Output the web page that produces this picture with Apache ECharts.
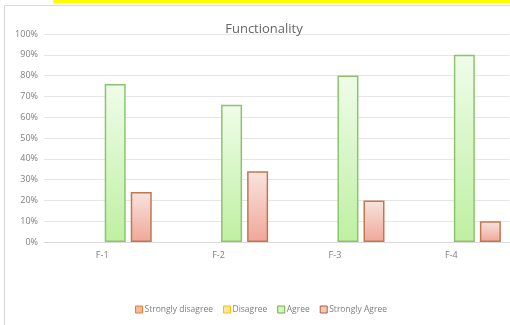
<!DOCTYPE html>
<html>
<head>
<meta charset="utf-8">
<script src="https://cdn.jsdelivr.net/npm/echarts@6/dist/echarts.min.js"></script>
<style>
  html, body { margin: 0; padding: 0; background: #ffffff; }
  #chart { width: 510px; height: 325px; }
</style>
</head>
<body>
<div id="chart"></div>
<script>
// Survey results per functionality item
const categories = ['F-1', 'F-2', 'F-3', 'F-4'];
const seriesNames = ['Strongly disagree', 'Disagree', 'Agree', 'Strongly Agree'];
const stronglyDisagree = [0, 0, 0, 0];
const disagree = [0, 0, 0, 0];
const agree = [76, 66, 80, 90];
const stronglyAgree = [24, 34, 20, 10];
const yTicks = [0, 10, 20, 30, 40, 50, 60, 70, 80, 90, 100];

const FONT = '"Open Sans", "Liberation Sans", sans-serif';
const grad = (top, bottom) => new echarts.graphic.LinearGradient(0, 0, 0, 1, [
  { offset: 0, color: top }, { offset: 1, color: bottom }
]);

const chart = echarts.init(document.getElementById('chart'), null, { renderer: 'canvas' });

function barSeries(name, data, fill, border, bw) {
  return {
    name: name,
    type: 'bar',
    data: data,
    barWidth: 21,
    barGap: '24%',
    itemStyle: { color: fill, borderColor: border, borderWidth: bw },
    emphasis: { disabled: true }
  };
}

chart.setOption({
  animation: false,
  backgroundColor: '#ffffff',
  title: {
    text: 'Functionality',
    left: 259,
    textAlign: 'center',
    top: 18,
    textStyle: { fontFamily: FONT, fontSize: 13, fontWeight: 'normal', color: '#666666' }
  },
  graphic: [
    { type: 'rect', shape: { x: 53, y: 0, width: 457, height: 3.5 }, style: { fill: '#ffff00' }, silent: true },
    { type: 'polyline', shape: { points: [[4.5, 325], [4.5, 5.5], [510, 5.5]] },
      style: { stroke: '#d9d9d9', lineWidth: 1, fill: null }, silent: true }
  ],
  legend: {
    bottom: 6,
    left: 130,
    itemWidth: 7,
    itemHeight: 7,
    itemGap: 10,
    icon: 'rect',
    textStyle: { fontFamily: FONT, fontSize: 8.5, color: '#7f7f7f', padding: [0, 0, 0, -3] },
    data: [
      { name: 'Strongly disagree', itemStyle: { color: '#f4b8a0', borderColor: '#ed7d31', borderWidth: 1 } },
      { name: 'Disagree', itemStyle: { color: '#ffe699', borderColor: '#ffc000', borderWidth: 1 } },
      { name: 'Agree', itemStyle: { color: '#d4f5c0', borderColor: '#70ad47', borderWidth: 1 } },
      { name: 'Strongly Agree', itemStyle: { color: '#f4c8b8', borderColor: '#b0603a', borderWidth: 1 } }
    ]
  },
  grid: { left: 44, top: 34, width: 465.5, height: 208, containLabel: false },
  xAxis: {
    type: 'category',
    data: categories,
    axisLine: { lineStyle: { color: '#d9d9d9' } },
    axisTick: { show: false },
    axisLabel: { fontFamily: FONT, fontSize: 9, color: '#7f7f7f', margin: 9 }
  },
  yAxis: {
    type: 'value',
    min: yTicks[0],
    max: yTicks[yTicks.length - 1],
    interval: 10,
    axisLine: { show: false },
    axisTick: { show: false },
    splitLine: { lineStyle: { color: '#e6e6e6' } },
    axisLabel: { fontFamily: FONT, fontSize: 9, color: '#7f7f7f', margin: 6, formatter: '{value}%' }
  },
  series: [
    barSeries(seriesNames[0], stronglyDisagree, '#f4b8a0', '#ed7d31', 0),
    barSeries(seriesNames[1], disagree, '#ffe699', '#ffc000', 0),
    barSeries(seriesNames[2], agree, grad('#effcea', '#bff0a2'), '#8cc46c', 1.5),
    barSeries(seriesNames[3], stronglyAgree, grad('#f9e4df', '#efa798'), '#c0784f', 1.5)
  ]
});
</script>
</body>
</html>
